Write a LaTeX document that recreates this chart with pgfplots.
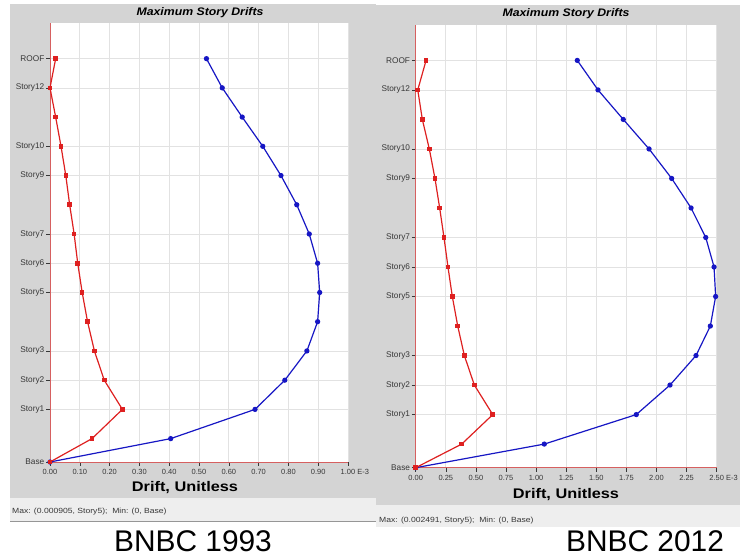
\documentclass[border=0pt]{standalone}
\usepackage{fontspec}
\setmainfont{Liberation Sans}
\usepackage{graphicx}
\usepackage{pgfplots}
\usepackage{pgfplotstable}
\pgfplotsset{compat=1.18}

\definecolor{panel}{RGB}{212,212,212}
\definecolor{statusbg}{RGB}{238,238,238}
\definecolor{statusline}{RGB}{150,150,150}
\definecolor{driftred}{RGB}{222,32,32}
\definecolor{driftblue}{RGB}{22,22,196}
\definecolor{axred}{RGB}{214,96,96}
\definecolor{gridgray}{RGB}{226,226,226}
\definecolor{ticktext}{RGB}{55,55,55}

% level: Base=0, Story n = n+0.8, ROOF = 13.8 ; drift in E-3
\pgfplotstableread{
lev   red    blue
0     0      0
0.8   0.141  0.405
1.8   0.243  0.688
2.8   0.182  0.788
3.8   0.149  0.862
4.8   0.126  0.898
5.8   0.108  0.905
6.8   0.093  0.898
7.8   0.081  0.870
8.8   0.066  0.828
9.8   0.053  0.775
10.8  0.037  0.714
11.8  0.019  0.645
12.8  0.000  0.578
13.8  0.019  0.525
}\bnbcold

\pgfplotstableread{
lev   red    blue
0     0      0
0.8   0.382  1.068
1.8   0.640  1.832
2.8   0.487  2.112
3.8   0.404  2.328
4.8   0.349  2.447
5.8   0.304  2.491
6.8   0.268  2.478
7.8   0.235  2.409
8.8   0.199  2.287
9.8   0.160  2.126
10.8  0.113  1.938
11.8  0.055  1.724
12.8  0.017  1.514
13.8  0.086  1.342
}\bnbcnew

\pgfplotsset{
  drift/.style={
    scale only axis,
    axis background/.style={fill=white},
    xmin=0, ymin=0,
    axis x line*=bottom, axis y line*=left,
    axis line style={-, draw=axred, line width=0.7pt},
    tick align=outside,
    major tick length=4bp,
    every tick/.style={draw=ticktext, line width=0.5pt},
    grid=major,
    grid style={draw=gridgray, line width=0.7pt},
    ytick={0,1.8,2.8,3.8,5.8,6.8,7.8,9.8,10.8,12.8,13.8},
    yticklabels={Base,Story1,Story2,Story3,Story5,Story6,Story7,Story9,Story10,Story12,ROOF},
    yticklabel style={font=\fontsize{8.3}{9}\selectfont, text=ticktext, inner sep=1.5bp},
    xticklabel style={font=\fontsize{7.5}{8}\selectfont, text=ticktext},
    clip=false,
  },
  bluedrift/.style={driftblue, line width=1.2pt, mark=*, mark size=2pt},
  reddrift/.style={driftred, line width=1.2pt, mark=square*, mark size=1.7pt},
}

\begin{document}
\begin{tikzpicture}
\begin{scope}[x=1bp,y=1bp]
  \path[use as bounding box] (0,0) rectangle (740,559);
  \fill[panel] (10,61) rectangle (376,555);
  \fill[panel] (376,54) rectangle (740,554);
  \fill[statusbg] (10,37) rectangle (376,61);
  \fill[statusbg] (376,32) rectangle (740,54);
  \draw[statusline, line width=1pt] (10,37) -- (376,37);
\end{scope}

\begin{axis}[drift,
  at={(50bp,97bp)}, anchor=south west,
  width=298bp, height=439bp,
  xmax=1, ymax=15.02,
  xtick={0,0.1,0.2,0.3,0.4,0.5,0.6,0.7,0.8,0.9,1.0},
  xticklabels={0.00,0.10,0.20,0.30,0.40,0.50,0.60,0.70,0.80,0.90,1.00\rlap{ E-3}},
]
\addplot[bluedrift] table[x=blue, y=lev] {\bnbcold};
\addplot[reddrift] table[x=red, y=lev] {\bnbcold};
\end{axis}

\begin{axis}[drift,
  at={(415.7bp,91.3bp)}, anchor=south west,
  width=301bp, height=442.7bp,
  xmax=2.5, ymax=15.0,
  xtick={0,0.25,0.5,0.75,1.0,1.25,1.5,1.75,2.0,2.25,2.5},
  xticklabels={0.00,0.25,0.50,0.75,1.00,1.25,1.50,1.75,2.00,2.25,2.50\rlap{ E-3}},
]
\addplot[bluedrift] table[x=blue, y=lev] {\bnbcnew};
\addplot[reddrift] table[x=red, y=lev] {\bnbcnew};
\end{axis}

\begin{scope}[x=1bp,y=1bp]
  \node at (200,546) {\scalebox{1.12}[1]{\fontsize{11}{13}\selectfont\bfseries\itshape Maximum Story Drifts}};
  \node at (566,545) {\scalebox{1.12}[1]{\fontsize{11}{13}\selectfont\bfseries\itshape Maximum Story Drifts}};
  \node at (185,71) {\scalebox{1.17}[1]{\fontsize{14}{16}\selectfont\bfseries Drift, Unitless}};
  \node at (566,64) {\scalebox{1.17}[1]{\fontsize{14}{16}\selectfont\bfseries Drift, Unitless}};
  \node[anchor=west, inner sep=0pt, text=ticktext] at (12,47) {\scalebox{1.15}[1]{\fontsize{7.5}{9}\selectfont Max: (0.000905, Story5);\ \ Min: (0, Base)}};
  \node[anchor=west, inner sep=0pt, text=ticktext] at (379,38) {\scalebox{1.15}[1]{\fontsize{7.5}{9}\selectfont Max: (0.002491, Story5);\ \ Min: (0, Base)}};
  \node[anchor=base, inner sep=0pt] at (193,7) {\fontsize{30}{34}\selectfont BNBC 1993};
  \node[anchor=base, inner sep=0pt] at (645,7) {\fontsize{30}{34}\selectfont BNBC 2012};
\end{scope}
\end{tikzpicture}
\end{document}
